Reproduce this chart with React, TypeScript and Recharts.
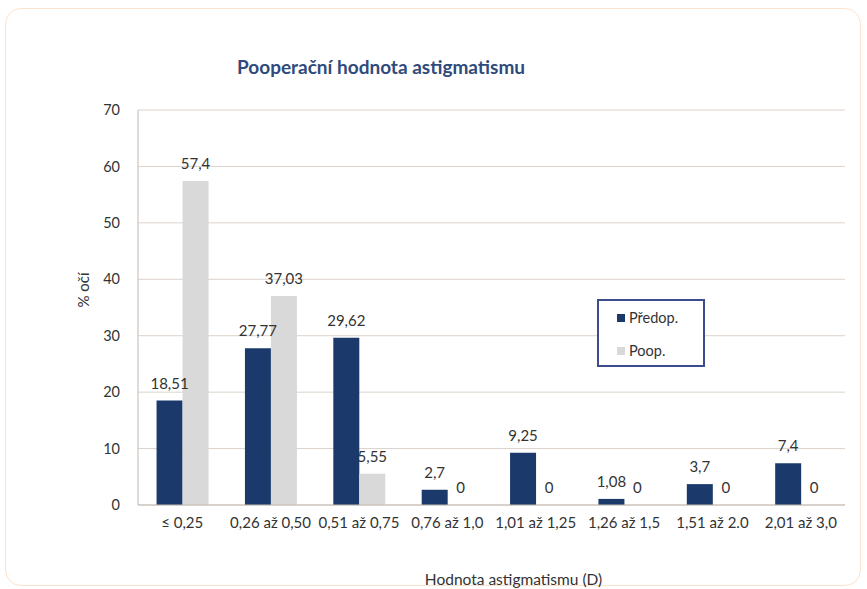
import { Bar, BarChart, CartesianGrid, LabelList, XAxis, YAxis } from "recharts"

const categories = [
  "≤ 0,25",
  "0,26 až 0,50",
  "0,51 až 0,75",
  "0,76 až 1,0",
  "1,01 až 1,25",
  "1,26 až 1,5",
  "1,51 až 2.0",
  "2,01 až  3,0",
]
const predop = [18.51, 27.77, 29.62, 2.7, 9.25, 1.08, 3.7, 7.4]
const poop = [57.4, 37.03, 5.55, 0, 0, 0, 0, 0]
const yTicks = [0, 10, 20, 30, 40, 50, 60, 70]

const data = categories.map((name, i) => ({ name, predop: predop[i], poop: poop[i] }))

const NAVY = "#1b3a6b"
const GRAY = "#d9d9d9"
const FONT = "Lato, 'Open Sans', sans-serif"

const fmt = (v: number) => String(v).replace(".", ",")

const ValueLabel = (props: any) => {
  const { x, y, width, value } = props
  return (
    <text
      x={Number(x) + Number(width) / 2}
      y={Number(y) - 12}
      textAnchor="middle"
      fill="#333"
      fontSize={15}
      fontFamily={FONT}
    >
      {fmt(value)}
    </text>
  )
}

function LegendBox() {
  const item = (color: string, text: string) => (
    <div style={{ display: "flex", alignItems: "center", height: 33 }}>
      <span style={{ width: 8, height: 8, background: color, marginRight: 4 }} />
      <span style={{ fontSize: 14.5, color: "#333" }}>{text}</span>
    </div>
  )
  return (
    <div
      style={{
        position: "absolute",
        left: 597,
        top: 299,
        width: 108,
        height: 68,
        border: "2px solid #3d4b8f",
        boxSizing: "border-box",
        padding: "0 0 0 18px",
        fontFamily: FONT,
        background: "#fff",
      }}
    >
      {item(NAVY, "Předop.")}
      {item(GRAY, "Poop.")}
    </div>
  )
}

export default function App() {
  return (
    <div style={{ position: "absolute", left: 0, top: 0, width: 867, height: 589, background: "#fff", fontFamily: FONT }}>
      <div
        style={{
          position: "absolute",
          left: 5,
          top: 8,
          width: 856,
          height: 578,
          border: "1.5px solid #fde2cc",
          borderRadius: 16,
          boxSizing: "border-box",
        }}
      />
      <div
        style={{
          position: "absolute",
          left: 237,
          top: 55,
          fontSize: 19,
          fontWeight: 700,
          color: "#2f4a7c",
        }}
      >
        Pooperační hodnota astigmatismu
      </div>
      <div style={{ position: "absolute", left: 0, top: 0 }}>
        <BarChart
          width={867}
          height={589}
          data={data}
          margin={{ top: 110, right: 22, left: 60, bottom: 0 }}
          barCategoryGap="21%"
          barGap={0}
        >
          <CartesianGrid vertical={false} stroke="#dcd2cb" />
          <XAxis
            dataKey="name"
            height={84}
            interval={0}
            axisLine={{ stroke: "#c4b8b0" }}
            tickLine={false}
            tick={{ fill: "#333", fontSize: 15, fontFamily: FONT }}
            tickMargin={6}
            label={{
              value: "Hodnota astigmatismu (D)",
              position: "insideBottom",
              offset: 4,
              dx: 22,
              fill: "#333",
              fontSize: 15.5,
              fontFamily: FONT,
            }}
          />
          <YAxis
            width={78}
            domain={[0, 70]}
            ticks={yTicks}
            axisLine={{ stroke: "#c4b8b0" }}
            tickLine={false}
            tick={{ fill: "#333", fontSize: 14.5, fontFamily: FONT }}
            tickMargin={12}
            label={{
              value: "% očí",
              angle: -90,
              position: "insideLeft",
              offset: 24,
              fill: "#333",
              fontSize: 15,
              fontFamily: FONT,
            }}
          />
          <Bar dataKey="predop" name="Předop." fill={NAVY} isAnimationActive={false}>
            <LabelList dataKey="predop" content={ValueLabel} />
          </Bar>
          <Bar dataKey="poop" name="Poop." fill={GRAY} minPointSize={0.01} isAnimationActive={false}>
            <LabelList dataKey="poop" content={ValueLabel} />
          </Bar>
        </BarChart>
      </div>
      <LegendBox />
    </div>
  )
}
